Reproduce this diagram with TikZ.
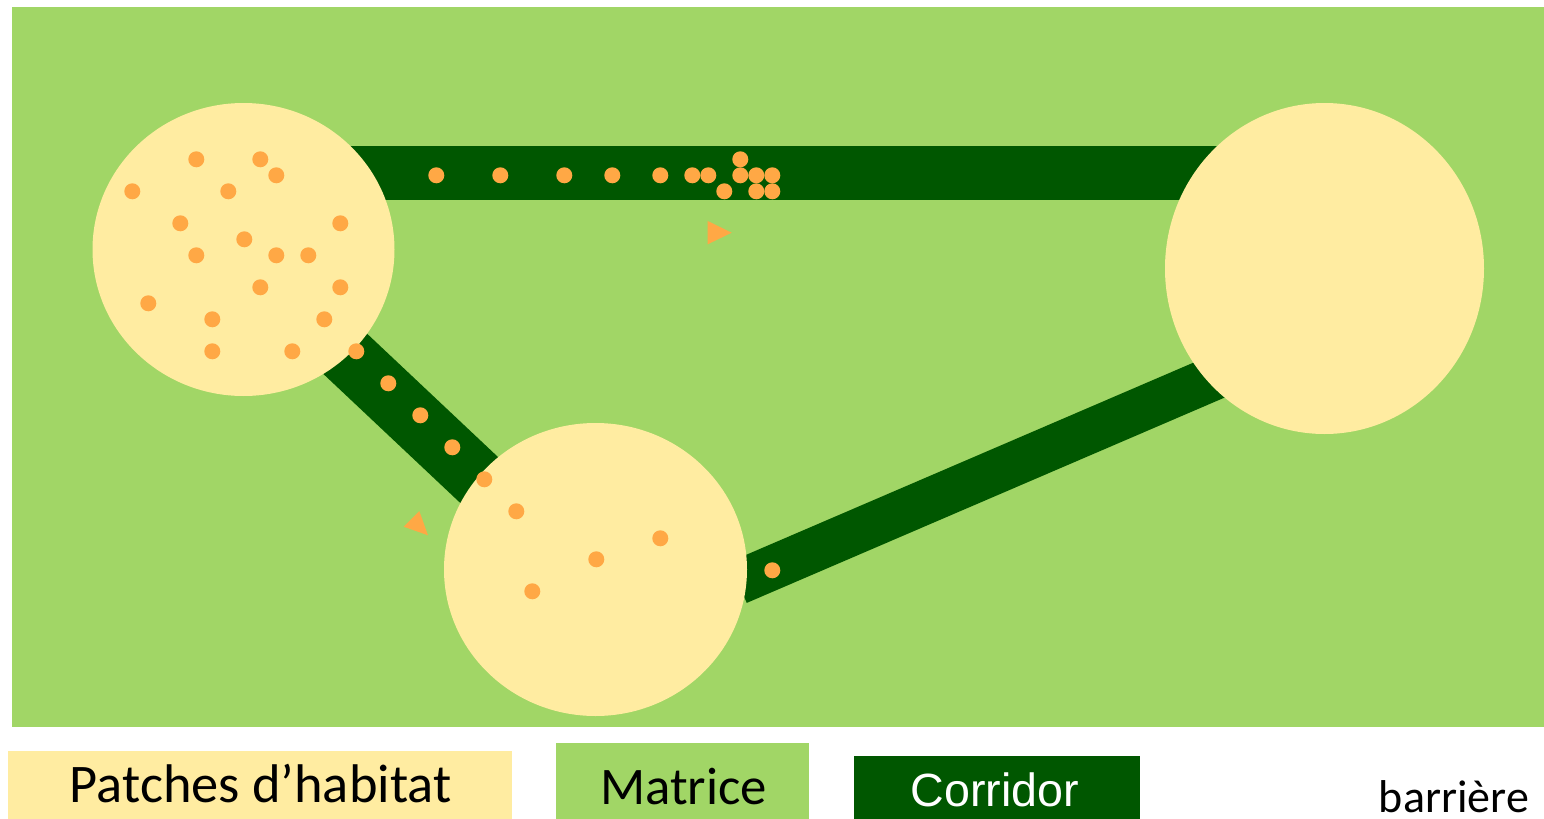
\documentclass[tikz,border=0pt]{standalone}
\usepackage{fontspec}
\setmainfont{Carlito}
\newfontfamily\arialf{Liberation Sans}
\usetikzlibrary{shapes.geometric}
\definecolor{matrixgreen}{RGB}{161,214,102}
\definecolor{corrgreen}{RGB}{0,87,0}
\definecolor{patchyellow}{RGB}{255,236,161}
\definecolor{dotorange}{RGB}{255,168,69}
\tikzset{
  patch/.style={ellipse, fill=patchyellow, inner sep=0pt},
  corr/.style={draw=corrgreen, line cap=butt},
  ind/.style={circle, fill=dotorange, inner sep=0pt, minimum size=8pt},
  arrowtri/.style={fill=dotorange},
  legendtxt/.style={anchor=base, inner sep=0pt, font=\fontsize{26.4pt}{30pt}\selectfont},
}
\begin{document}
\begin{tikzpicture}[x=0.5pt,y=-0.5pt]
\useasboundingbox (0,0) rectangle (1544,819);
\fill[matrixgreen] (12,7) rectangle (1544,727);
% corridors
\fill[corrgreen] (330,146) rectangle (1250,200);
\coordinate (d1) at (300,311.25);
\coordinate (d2) at (540,537.3);
\draw[corr, line width=29.65pt] (d1) -- (d2);
\coordinate (e1) at (738,582.5);
\coordinate (e2) at (1260,358.2);
\draw[corr, line width=22.2pt] (e1) -- (e2);
% patches
\node[patch, minimum width=151pt, minimum height=146.5pt] (pA) at (243.5,249.5) {};
\node[patch, minimum width=151.5pt, minimum height=146.5pt] (pB) at (595.5,569.5) {};
\node[patch, minimum width=159.5pt, minimum height=165.5pt] (pC) at (1324.5,268.5) {};
% individuals
\foreach \p [count=\i] in {
 (196.3,159.3),(260.3,159.3),(276.3,175.3),(132.3,191.3),(228.3,191.3),
 (180.3,223.3),(340.3,223.3),(244.3,239.3),(196.3,255.3),(276.3,255.3),
 (308.3,255.3),(260.3,287.3),(340.3,287.3),(148.3,303.3),(212.3,319.3),
 (324.3,319.3),(212.3,351.3),(292.3,351.3),(356.3,351.3),(388.3,383.3),
 (420.3,415.3),(452.3,447.3),(484.3,479.3),(516.3,511.3),(660.3,538.3),
 (596.3,559.3),(532.3,591.3),(772.3,570.3),
 (436.3,175.3),(500.3,175.3),(564.3,175.3),(612.3,175.3),(660.3,175.3),
 (692.3,175.3),(708.3,175.3),(740.3,159.3),(740.3,175.3),(756.3,175.3),
 (772.3,175.3),(724.3,191.3),(756.3,191.3),(772.3,191.3)}
 \node[ind] (i\i) at \p {};
% direction marks
\fill[arrowtri] (707.7,221) -- (707.7,244.3) -- (731.7,232.7) -- cycle;
\fill[arrowtri] (419.3,511) -- (403.7,526.7) -- (428,535.3) -- cycle;
% legend
\fill[patchyellow] (8,751) rectangle (512,819);
\fill[matrixgreen] (556,743) rectangle (808.7,819);
\fill[corrgreen] (854,756) rectangle (1140,819);
\node[legendtxt, font=\fontsize{27.2pt}{30pt}\selectfont] (tP) at (260.7,802.7) {Patches d’habitat};
\node[legendtxt] (tM) at (683.5,804) {Matrice};
\node[legendtxt, text=white, font=\arialf\fontsize{23.3pt}{28pt}\selectfont] (tC) at (995,806) {Corridor};
\node[legendtxt, font=\fontsize{23pt}{28pt}\selectfont] (tB) at (1454,812.5) {barrière};
\end{tikzpicture}
\end{document}
